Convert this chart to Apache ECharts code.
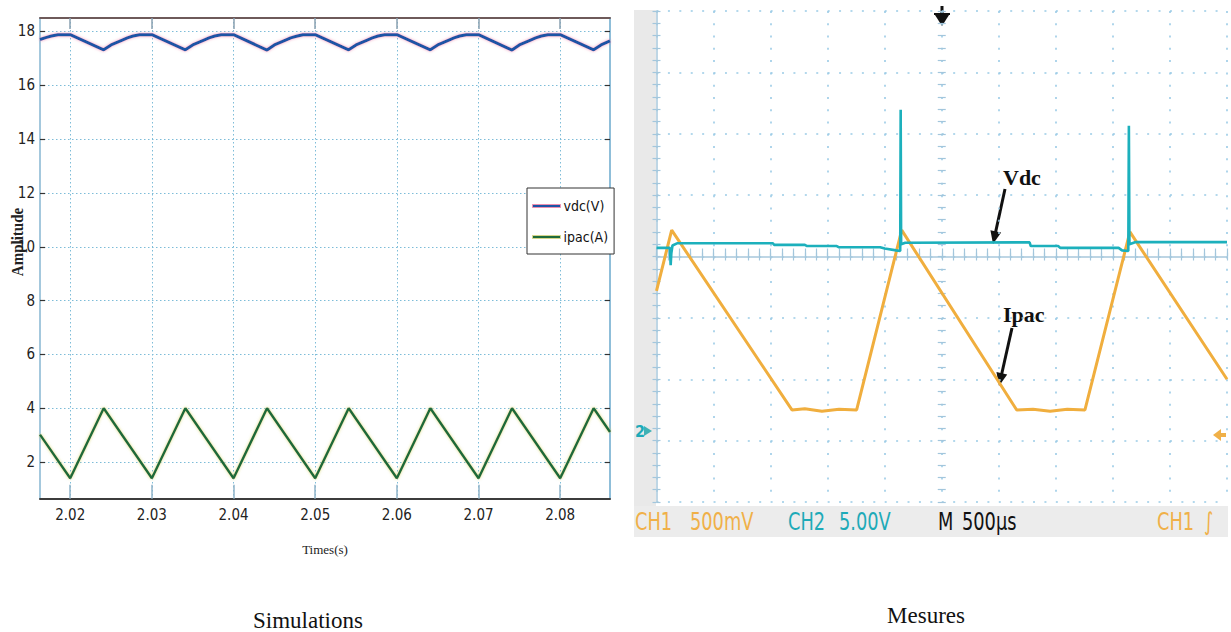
<!DOCTYPE html>
<html><head><meta charset="utf-8">
<script src="https://cdn.jsdelivr.net/npm/echarts@6/dist/echarts.min.js"></script>
<style>html,body{margin:0;padding:0;background:#fff}#c{width:1231px;height:632px}</style>
</head><body><div id="c"></div>
<script>
// ---------- Simulation panel (left) ----------
const simXTicks = [2.02, 2.03, 2.04, 2.05, 2.06, 2.07, 2.08];
const simYTicks = [2, 4, 6, 8, 10, 12, 14, 16, 18];
const simXRange = [2.0163, 2.0861];
const simYRange = [0.64, 18.5];
const vdcSim = [
  [2.0163,17.70],[2.0170,17.77],[2.0177,17.83],[2.0185,17.88],[2.0200,17.88],
  [2.0241,17.32],[2.0250,17.50],[2.0263,17.67],[2.0270,17.76],[2.0277,17.83],[2.0285,17.88],[2.0300,17.88],
  [2.0341,17.32],[2.0350,17.50],[2.0363,17.67],[2.0370,17.76],[2.0377,17.83],[2.0385,17.88],[2.0400,17.88],
  [2.0441,17.31],[2.0450,17.50],[2.0463,17.67],[2.0470,17.76],[2.0477,17.82],[2.0485,17.88],[2.0500,17.88],
  [2.0541,17.32],[2.0550,17.50],[2.0563,17.67],[2.0570,17.76],[2.0577,17.83],[2.0585,17.88],[2.0600,17.88],
  [2.0641,17.32],[2.0650,17.50],[2.0663,17.67],[2.0670,17.76],[2.0677,17.83],[2.0685,17.88],[2.0700,17.88],
  [2.0741,17.31],[2.0750,17.50],[2.0763,17.67],[2.0770,17.76],[2.0777,17.83],[2.0785,17.88],[2.0800,17.88],
  [2.0841,17.32],[2.0850,17.50],[2.0861,17.65]
];
const ipacSim = [
  [2.0163,3.02],[2.0200,1.40],[2.0241,4.00],[2.0300,1.40],[2.0341,4.00],[2.0400,1.40],
  [2.0441,4.00],[2.0500,1.40],[2.0541,4.00],[2.0600,1.40],[2.0641,4.00],[2.0700,1.40],
  [2.0741,4.00],[2.0800,1.40],[2.0841,4.00],[2.0861,3.12]
];
const simNames = ['vdc(V)', 'ipac(A)'];

// ---------- Measurement panel (right, oscilloscope) ----------
// x: time in microseconds (500 us/div, 10 div), y: screen divisions (8 div, 0 = centre)
const scopeXRange = [0, 5000];
const scopeYRange = [-4, 4];
const vdcMes = [
  [0,0.14],[118,0.14],[124,-0.14],[130,0.05],[140,0.18],[180,0.215],[1020,0.215],[1030,0.19],
  [1300,0.19],[1320,0.17],[1580,0.17],[1600,0.15],[1960,0.15],[2000,0.13],[2100,0.10],[2136,0.09],
  [2140,2.39],[2144,0.20],[2180,0.225],[3270,0.23],[3280,0.17],[3520,0.17],[3540,0.14],[4050,0.14],
  [4080,0.10],[4135,0.09],[4140,2.13],[4145,0.20],[4200,0.235],[5000,0.235]
];
const ipacMes = [
  [0,-0.56],[133,0.43],[1187,-2.50],[1300,-2.48],[1450,-2.52],[1600,-2.49],[1754,-2.50],
  [2149,0.43],[3157,-2.50],[3300,-2.49],[3450,-2.52],[3600,-2.49],[3755,-2.50],[4149,0.40],[5000,-2.00]
];
const scopeLabels = {ch1: 'CH1', ch1v: '500mV', ch2: 'CH2', ch2v: '5.00V', m: 'M', mv: '500µs', trig: 'CH1', trigSym: '∫'};
const captions = ['Simulations', 'Mesures'];

const NARROW = "'Liberation Sans Narrow','Arial Narrow','DejaVu Sans Condensed',sans-serif";
const SERIF = "'Liberation Serif','Times New Roman',serif";

const chart = echarts.init(document.getElementById('c'), null, {renderer: 'svg'});

const simGrid = {color: '#7dbcd8', type: [1.5, 2.5], width: 1};
const scopeDot = '#9bcbe6';
const scopeTick = '#a3c6dc';

function scopeMinor(len) {
  return {show: true, splitNumber: 5, length: len, lineStyle: {color: scopeTick, width: 1.2}};
}

function arrow(x1, y1, x2, y2) {
  const dx = x2 - x1, dy = y2 - y1, L = Math.hypot(dx, dy);
  const ux = dx / L, uy = dy / L, hl = 13, hw = 5.5;
  const bx = x2 - ux * hl, by = y2 - uy * hl;
  return [
    {type: 'line', shape: {x1: x1, y1: y1, x2: bx + ux * 2, y2: by + uy * 2}, style: {stroke: '#111', lineWidth: 3}},
    {type: 'polygon', shape: {points: [[x2, y2], [bx - uy * hw, by + ux * hw], [bx + uy * hw, by - ux * hw]]}, style: {fill: '#111'}}
  ];
}

function scopeText(text, x, color, align) {
  return {type: 'text', x: x, y: 521, scaleX: 0.86, scaleY: 1.08,
    style: {text: text, fill: color, font: "23px " + NARROW, align: align || 'left', verticalAlign: 'middle'}};
}

const graphics = [
  // oscilloscope frame strips
  {type: 'rect', shape: {x: 634, y: 10, width: 22, height: 527}, style: {fill: '#e9e9e9'}, z: -1},
  {type: 'rect', shape: {x: 634, y: 506, width: 594, height: 31}, style: {fill: '#ececec'}, z: -1},
  scopeText(scopeLabels.ch1, 635, '#f0b048'),
  scopeText(scopeLabels.ch1v, 690, '#f0b048'),
  scopeText(scopeLabels.ch2, 788, '#1eaab8'),
  scopeText(scopeLabels.ch2v, 839, '#1eaab8'),
  scopeText(scopeLabels.m, 938, '#111'),
  scopeText(scopeLabels.mv, 962, '#111'),
  scopeText(scopeLabels.trig, 1157, '#f0b048'),
  scopeText(scopeLabels.trigSym, 1204, '#f0b048'),
  // channel ground markers
  {type: 'text', x: 635, y: 431, style: {text: '2', fill: '#1eaab8', font: "bold 16px " + NARROW, verticalAlign: 'middle'}},
  {type: 'polygon', shape: {points: [[644, 426], [652, 431], [644, 436]]}, style: {fill: '#3fb1b5'}},
  {type: 'polygon', shape: {points: [[1213, 435], [1221, 429], [1221, 441]]}, style: {fill: '#f0b048'}},
  {type: 'rect', shape: {x: 1220, y: 433, width: 6, height: 4}, style: {fill: '#f0b048'}},
  // trigger marker
  {type: 'line', shape: {x1: 942, y1: 6, x2: 942, y2: 19}, style: {stroke: '#111', lineWidth: 3}},
  {type: 'line', shape: {x1: 934, y1: 14, x2: 950, y2: 14}, style: {stroke: '#111', lineWidth: 2}},
  {type: 'polygon', shape: {points: [[935, 15], [949, 15], [942, 26]]}, style: {fill: '#111'}},
  // annotations
  {type: 'text', x: 1003, y: 177, style: {text: 'Vdc', fill: '#111', font: "bold 22px " + SERIF, verticalAlign: 'middle'}},
  ...arrow(1005, 189, 993, 244),
  {type: 'text', x: 1003, y: 314, style: {text: 'Ipac', fill: '#111', font: "bold 22px " + SERIF, verticalAlign: 'middle'}},
  ...arrow(1012, 328, 999, 386),
  // y axis title (left)
  {type: 'text', x: 17, y: 242, rotation: Math.PI / 2, scaleY: 1.1,
    style: {text: 'Amplitude', fill: '#222', font: "bold 15px " + SERIF, align: 'center', verticalAlign: 'middle'}},
  // captions
  {type: 'text', x: 308, y: 620, style: {text: captions[0], fill: '#111', font: "23px " + SERIF, align: 'center', verticalAlign: 'middle'}},
  {type: 'text', x: 926, y: 615, style: {text: captions[1], fill: '#111', font: "23px " + SERIF, align: 'center', verticalAlign: 'middle'}}
];

chart.setOption({
  animation: false,
  backgroundColor: '#fff',
  grid: [
    {left: 40, top: 18, width: 570, height: 480.7},
    {left: 656.5, top: 11, width: 570.5, height: 491}
  ],
  legend: {
    data: [
      {name: simNames[0], itemStyle: {color: '#1d55a5', borderColor: '#ec8fb0', borderWidth: 1}},
      {name: simNames[1], itemStyle: {color: '#1f6b3b', borderColor: '#d5d58a', borderWidth: 1}}
    ],
    orient: 'vertical', left: 527, top: 188, icon: 'rect', itemWidth: 28, itemHeight: 3,
    itemGap: 17, padding: [11, 6, 10, 5], backgroundColor: '#fff', borderColor: '#333', borderWidth: 1,
    textStyle: {fontFamily: NARROW, fontSize: 14, color: '#111', padding: [0, 0, 0, -2]}
  },
  xAxis: [
    {gridIndex: 0, type: 'value', min: simXRange[0], max: simXRange[1], position: 'bottom',
      axisLine: {lineStyle: {color: '#3c3c3c', width: 2}},
      axisTick: {show: true, inside: true, length: 14, customValues: simXTicks, lineStyle: {color: '#8fb3c8', width: 1.5}},
      axisLabel: {customValues: simXTicks, formatter: v => v.toFixed(2), fontFamily: NARROW, fontSize: 15, color: '#222', margin: 9},
      splitLine: {show: true, lineStyle: simGrid},
      name: 'Times(s)', nameLocation: 'middle', nameGap: 44,
      nameTextStyle: {fontFamily: SERIF, fontSize: 13, color: '#222'}},
    {gridIndex: 0, type: 'value', min: simXRange[0], max: simXRange[1], position: 'top',
      axisLine: {lineStyle: {color: '#6e5a5a', width: 2}},
      axisTick: {show: true, inside: true, length: 11, customValues: simXTicks, lineStyle: {color: '#8aa0b0', width: 1.5}},
      axisLabel: {show: false}, splitLine: {show: false}},
    {gridIndex: 1, type: 'value', min: scopeXRange[0], max: scopeXRange[1], interval: 500, position: 'bottom',
      axisLine: {lineStyle: {color: '#a8c8dc', width: 1.5}},
      axisTick: {show: true, inside: true, length: 4, lineStyle: {color: scopeTick, width: 1.2}},
      minorTick: scopeMinor(4), axisLabel: {show: false},
      splitLine: {show: true, lineStyle: {color: scopeDot, type: [2, 10.275], width: 1.6}}},
    {gridIndex: 1, type: 'value', min: scopeXRange[0], max: scopeXRange[1], interval: 500, position: 'top',
      axisLine: {show: false},
      axisTick: {show: true, inside: true, length: 4, lineStyle: {color: scopeTick, width: 1.2}},
      minorTick: scopeMinor(4), axisLabel: {show: false}, splitLine: {show: false}},
    {gridIndex: 1, type: 'value', min: scopeXRange[0], max: scopeXRange[1], interval: 500, position: 'bottom', offset: -241.5,
      axisLine: {show: false},
      axisTick: {show: true, inside: true, length: 8, lineStyle: {color: scopeTick, width: 1.2}},
      minorTick: scopeMinor(8), axisLabel: {show: false}, splitLine: {show: false}}
  ],
  yAxis: [
    {gridIndex: 0, type: 'value', min: simYRange[0], max: simYRange[1], position: 'left',
      axisLine: {show: true, lineStyle: {color: '#86b6d2', width: 1.5}},
      axisTick: {show: true, inside: true, length: 5, customValues: simYTicks, lineStyle: {color: '#333', width: 1.2}},
      axisLabel: {customValues: simYTicks, fontFamily: NARROW, fontSize: 15, color: '#222', margin: 5},
      splitLine: {show: true, lineStyle: simGrid}},
    {gridIndex: 0, type: 'value', min: simYRange[0], max: simYRange[1], position: 'right',
      axisLine: {show: true, lineStyle: {color: '#6aa8cc', width: 1.5}},
      axisTick: {show: true, inside: true, length: 5, customValues: simYTicks, lineStyle: {color: '#333', width: 1.2}},
      axisLabel: {show: false}, splitLine: {show: false}},
    {gridIndex: 1, type: 'value', min: scopeYRange[0], max: scopeYRange[1], interval: 1, position: 'left',
      axisLine: {show: true, lineStyle: {color: '#a8c8dc', width: 1.5}},
      axisTick: {show: true, inside: true, length: 4, lineStyle: {color: scopeTick, width: 1.2}},
      minorTick: scopeMinor(4), axisLabel: {show: false},
      splitLine: {show: true, lineStyle: {color: scopeDot, type: [2, 9.41], width: 1.6}}},
    {gridIndex: 1, type: 'value', min: scopeYRange[0], max: scopeYRange[1], interval: 1, position: 'right',
      axisLine: {show: false},
      axisTick: {show: true, inside: true, length: 4, lineStyle: {color: scopeTick, width: 1.2}},
      minorTick: scopeMinor(4), axisLabel: {show: false}, splitLine: {show: false}},
    {gridIndex: 1, type: 'value', min: scopeYRange[0], max: scopeYRange[1], interval: 1, position: 'left', offset: -281.25,
      axisLine: {show: false},
      axisTick: {show: true, inside: true, length: 8, lineStyle: {color: scopeTick, width: 1.2}},
      minorTick: scopeMinor(8), axisLabel: {show: false}, splitLine: {show: false}}
  ],
  series: [
    {name: simNames[0], type: 'line', xAxisIndex: 0, yAxisIndex: 0, data: vdcSim, symbol: 'none', z: 4,
      itemStyle: {color: '#1d55a5'},
      lineStyle: {color: '#1d55a5', width: 3, shadowColor: 'rgba(235,120,160,0.7)', shadowBlur: 3}},
    {name: simNames[1], type: 'line', xAxisIndex: 0, yAxisIndex: 0, data: ipacSim, symbol: 'none', z: 4,
      itemStyle: {color: '#1f6b3b'},
      lineStyle: {color: '#1f6b3b', width: 2.5, shadowColor: 'rgba(210,210,90,0.7)', shadowBlur: 3}},
    {name: 'Ipac', type: 'line', xAxisIndex: 2, yAxisIndex: 2, data: ipacMes, symbol: 'none', z: 3,
      lineStyle: {color: '#f0ae3e', width: 3}},
    {name: 'Vdc', type: 'line', xAxisIndex: 2, yAxisIndex: 2, data: vdcMes, symbol: 'none', z: 4,
      lineStyle: {color: '#1cb0bc', width: 2.6}}
  ],
  graphic: graphics
});
</script></body></html>
